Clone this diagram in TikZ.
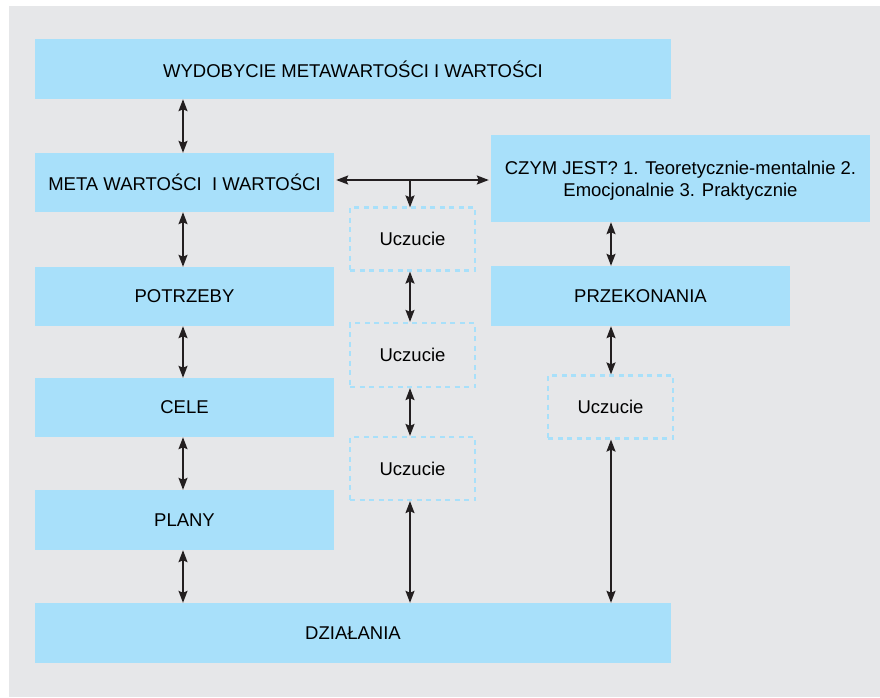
\documentclass[tikz,border=0pt]{standalone}
\usepackage{fontspec}
\setmainfont{Liberation Sans}
\usetikzlibrary{arrows.meta}
\definecolor{bgc}{HTML}{E6E7E9}
\definecolor{boxc}{HTML}{A8E0FA}
\definecolor{arc}{HTML}{231F20}
\begin{document}
\begin{tikzpicture}[x=1pt,y=-1pt,
  box/.style={fill=boxc,draw=none,inner sep=0pt,font=\fontsize{18.5}{22}\selectfont,text=black,align=center},
  feel/.style={draw=boxc,dash pattern=on 5pt off 4.5pt,line width=2.2pt,fill=none,inner sep=0pt,font=\fontsize{18.5}{22}\selectfont},
  tip/.tip={Stealth[length=12pt,width=9pt,inset=2pt]},
  arr/.style={draw=arc,line width=1.7pt,tip-tip},
  arrone/.style={draw=arc,line width=1.7pt,-tip}]
\useasboundingbox (0,0) rectangle (880,697);
\fill[white] (0,0) rectangle (880,697);
\fill[bgc] (9,6) rectangle (880,697);
% boxes
\node[box,minimum width=636pt,minimum height=60pt] (top) at (353,69) {WYDOBYCIE METAWARTOŚCI I WARTOŚCI};
\node[box,minimum width=299pt,minimum height=59pt] (meta) at (184.5,182.5) {META WARTOŚCI\ \ I WARTOŚCI};
\node[box,minimum width=299pt,minimum height=59pt] (potr) at (184.5,296.5) {POTRZEBY};
\node[box,minimum width=299pt,minimum height=59pt] (cele) at (184.5,407.5) {CELE};
\node[box,minimum width=299pt,minimum height=60pt] (plany) at (184.5,520) {PLANY};
\node[box,minimum width=636pt,minimum height=60pt] (dzial) at (353,633) {DZIAŁANIA};
\node[box,minimum width=379pt,minimum height=87pt] (czym) at (680.5,178.5) {};
\node[box] (czymt) at (680.5,181) {CZYM JEST? 1. Teoretycznie-mentalnie 2.\\Emocjonalnie 3. Praktycznie};
\node[box,minimum width=299pt,minimum height=60pt] (przek) at (640.5,296) {PRZEKONANIA};
% feelings
\node[feel,minimum width=125pt,minimum height=63pt] (u1) at (412.5,239) {Uczucie};
\node[feel,minimum width=125pt,minimum height=64pt] (u2) at (412.5,355) {Uczucie};
\node[feel,minimum width=125pt,minimum height=63pt] (u3) at (412.5,468.5) {Uczucie};
\node[feel,minimum width=125pt,minimum height=63pt] (u4) at (610.5,407) {Uczucie};
% connectors
\draw[arr] (top.south -| 183,0) -- (meta.north -| 183,0);
\draw[arr] (meta.south -| 183,0) -- (potr.north -| 183,0);
\draw[arr] (potr.south -| 183,0) -- (cele.north -| 183,0);
\draw[arr] (cele.south -| 183,0) -- (plany.north -| 183,0);
\draw[arr] (plany.south -| 183,0) -- (dzial.north -| 183,0);
\draw[arr] ([xshift=2pt]meta.east |- 0,180) -- ([xshift=-2pt]czym.west |- 0,180);
\coordinate (br) at (410,180);
\draw[arrone] (br) -- ([yshift=-1pt]u1.north -| br);
\draw[arr] (u1.south -| 410,0) -- (u2.north -| 410,0);
\draw[arr] (u2.south -| 410,0) -- (u3.north -| 410,0);
\draw[arr] (u3.south -| 410,0) -- (dzial.north -| 410,0);
\draw[arr] (czym.south -| 611,0) -- (przek.north -| 611,0);
\draw[arr] (przek.south -| 611,0) -- (u4.north -| 611,0);
\draw[arr] (u4.south -| 611,0) -- (dzial.north -| 611,0);
\end{tikzpicture}
\end{document}
